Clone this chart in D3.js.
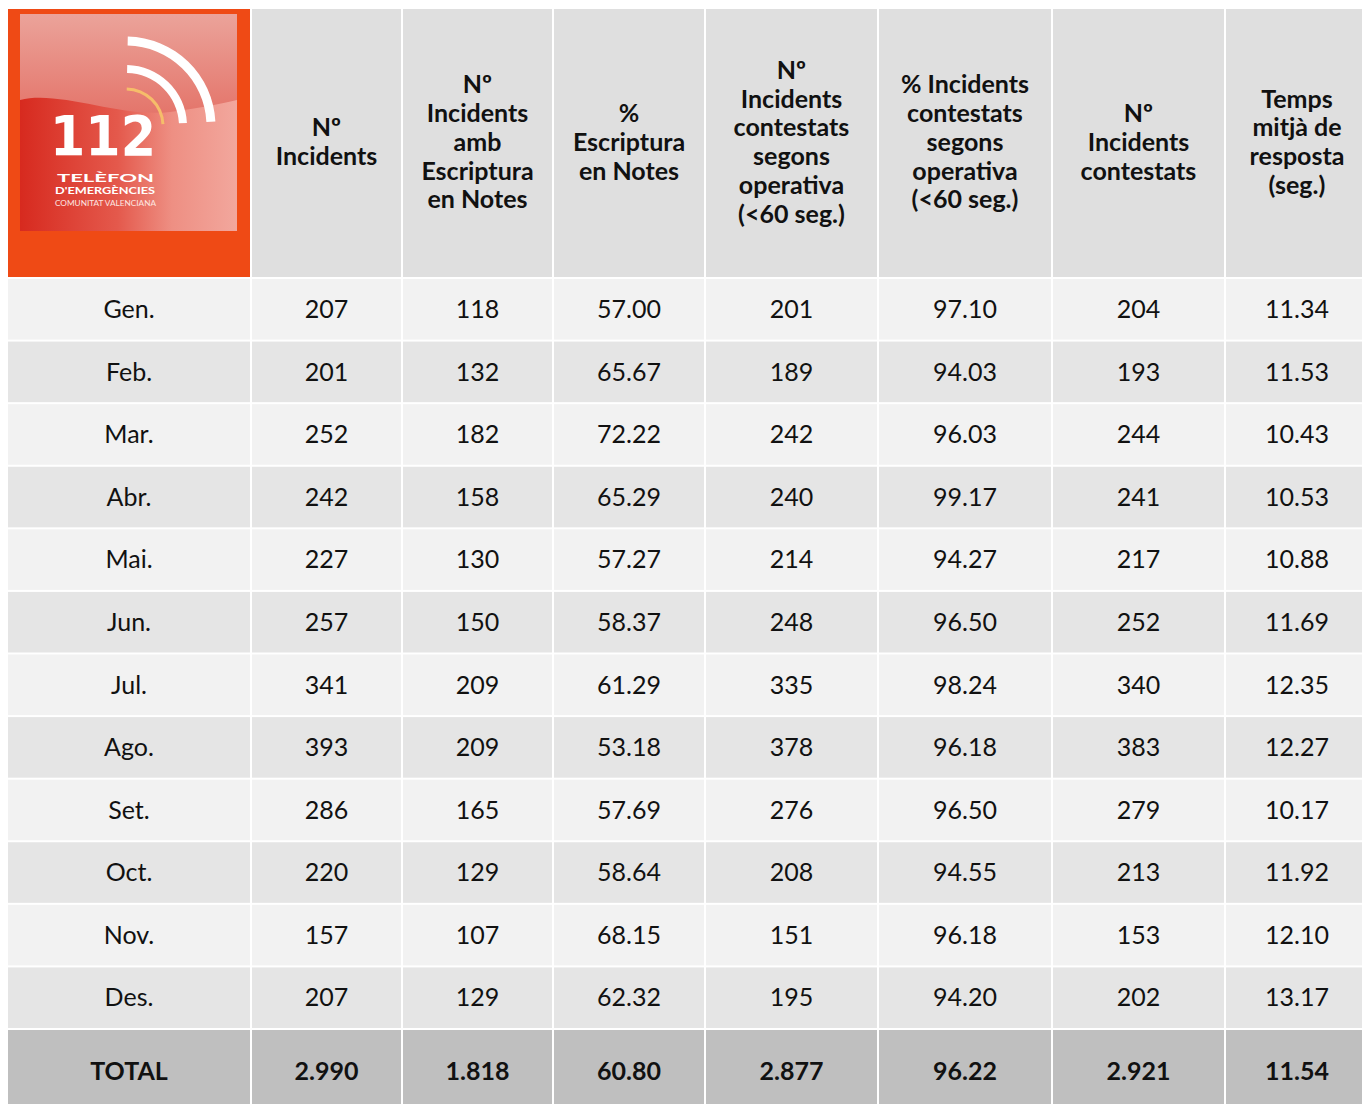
<!DOCTYPE html>
<html>
<head>
<meta charset="utf-8">
<script src="https://cdn.jsdelivr.net/npm/d3@7"></script>
<style>
  body { margin: 0; background: #fff; }
  text { font-family: Lato, "Open Sans", sans-serif; fill: #111; }
</style>
</head>
<body>
<div id="table"></div>
<script>
var months = ["Gen.", "Feb.", "Mar.", "Abr.", "Mai.", "Jun.", "Jul.", "Ago.", "Set.", "Oct.", "Nov.", "Des."];

var incidents = [207, 201, 252, 242, 227, 257, 341, 393, 286, 220, 157, 207];
var withNotes = [118, 132, 182, 158, 130, 150, 209, 209, 165, 129, 107, 129];
var pctNotes = [57.00, 65.67, 72.22, 65.29, 57.27, 58.37, 61.29, 53.18, 57.69, 58.64, 68.15, 62.32];
var answered60 = [201, 189, 242, 240, 214, 248, 335, 378, 276, 208, 151, 195];
var pctAnswered60 = [97.10, 94.03, 96.03, 99.17, 94.27, 96.50, 98.24, 96.18, 96.50, 94.55, 96.18, 94.20];
var answered = [204, 193, 244, 241, 217, 252, 340, 383, 279, 213, 153, 202];
var avgTime = [11.34, 11.53, 10.43, 10.53, 10.88, 11.69, 12.35, 12.27, 10.17, 11.92, 12.10, 13.17];

var totalLabel = "TOTAL";
var totals = [2990, 1818, 60.80, 2877, 96.22, 2921, 11.54];

var headers = [
  ["Nº", "Incidents"],
  ["Nº", "Incidents", "amb", "Escriptura", "en Notes"],
  ["%", "Escriptura", "en Notes"],
  ["Nº", "Incidents", "contestats", "segons", "operativa", "(<60 seg.)"],
  ["% Incidents", "contestats", "segons", "operativa", "(<60 seg.)"],
  ["Nº", "Incidents", "contestats"],
  ["Temps", "mitjà de", "resposta", "(seg.)"]
];

var series = [incidents, withNotes, pctNotes, answered60, pctAnswered60, answered, avgTime];
var decimals = [false, false, true, false, true, false, true];

// Layout
var width = 1362, height = 1104;
var colLeft = [8, 252, 403, 554, 706, 879, 1053, 1226];
var colRight = [250, 401, 552, 704, 877, 1051, 1224, 1370];
var headTop = 9, headBottom = 277;
var bodyTop = 279, bodyBottom = 1030;
var totalBottom = 1112;

var orange = "#ef4a15";
var headFill = "#dfdfdf";
var oddFill = "#f2f2f2";
var evenFill = "#e5e5e5";
var totalFill = "#bfbfbf";

var euro = d3.formatLocale({ decimal: ",", thousands: ".", grouping: [3], currency: ["", ""] });
var fmtInt = euro.format(",d");
var fmtDec = d3.format(".2f");

var svg = d3.select("#table")
    .append("svg")
    .attr("width", width)
    .attr("height", height);

svg.append("rect")
    .attr("width", width)
    .attr("height", height)
    .attr("fill", "#fff");

var yRow = d3.scaleBand()
    .domain(months)
    .range([bodyTop, bodyBottom]);

function centerX(c) {
  return (colLeft[c] + Math.min(colRight[c], 1368)) / 2;
}

// Header row
svg.append("rect")
    .attr("x", colLeft[0]).attr("y", headTop)
    .attr("width", colRight[0] - colLeft[0])
    .attr("height", headBottom - headTop)
    .attr("fill", orange);

var headG = svg.append("g").attr("class", "head");
headers.forEach(function(lines, i) {
  var c = i + 1;
  headG.append("rect")
      .attr("x", colLeft[c]).attr("y", headTop)
      .attr("width", colRight[c] - colLeft[c])
      .attr("height", headBottom - headTop)
      .attr("fill", headFill);

  var lh = 28.8;
  var y0 = 142 - (lines.length - 1) * lh / 2;
  var t = headG.append("text")
      .attr("text-anchor", "middle")
      .attr("font-size", 25)
      .attr("font-weight", "bold");
  lines.forEach(function(line, k) {
    t.append("tspan")
        .attr("x", centerX(c))
        .attr("y", y0 + k * lh)
        .attr("dy", "0.35em")
        .text(line);
  });
});

// Body rows
var rows = svg.selectAll("g.row")
    .data(months)
    .enter()
    .append("g")
    .attr("class", "row");

colLeft.forEach(function(x0, c) {
  rows.append("rect")
      .attr("x", x0)
      .attr("y", function(d) { return yRow(d); })
      .attr("width", colRight[c] - x0)
      .attr("height", yRow.bandwidth() - 2)
      .attr("fill", function(d, i) { return i % 2 === 0 ? oddFill : evenFill; });

  rows.append("text")
      .attr("x", centerX(c))
      .attr("y", function(d) { return yRow(d) + (yRow.bandwidth() - 2) / 2; })
      .attr("dy", "0.35em")
      .attr("text-anchor", "middle")
      .attr("font-size", 25)
      .text(function(d, i) {
        if (c === 0) return d;
        var v = series[c - 1][i];
        return decimals[c - 1] ? fmtDec(v) : v;
      });
});

// Total row
colLeft.forEach(function(x0, c) {
  svg.append("rect")
      .attr("x", x0)
      .attr("y", bodyBottom)
      .attr("width", colRight[c] - x0)
      .attr("height", totalBottom - bodyBottom)
      .attr("fill", totalFill);

  svg.append("text")
      .attr("x", centerX(c))
      .attr("y", 1071)
      .attr("dy", "0.35em")
      .attr("text-anchor", "middle")
      .attr("font-size", 25)
      .attr("font-weight", "bold")
      .text(c === 0 ? totalLabel : (decimals[c - 1] ? fmtDec(totals[c - 1]) : fmtInt(totals[c - 1])));
});

// 112 logo inside the orange cell
var defs = svg.append("defs");
var gTop = defs.append("linearGradient").attr("id", "gTop")
    .attr("x1", 0).attr("y1", 0).attr("x2", 0).attr("y2", 1);
gTop.append("stop").attr("offset", "0%").attr("stop-color", "#eba39a");
gTop.append("stop").attr("offset", "100%").attr("stop-color", "#dc3f33");

var gBot = defs.append("linearGradient").attr("id", "gBot")
    .attr("x1", 0).attr("y1", 0).attr("x2", 1).attr("y2", 0);
gBot.append("stop").attr("offset", "0%").attr("stop-color", "#d72a1f");
gBot.append("stop").attr("offset", "45%").attr("stop-color", "#e4594c");
gBot.append("stop").attr("offset", "70%").attr("stop-color", "#ee8f83");
gBot.append("stop").attr("offset", "100%").attr("stop-color", "#f2a79d");

var logo = svg.append("g").attr("class", "logo");
logo.append("rect")
    .attr("x", 20).attr("y", 14)
    .attr("width", 217).attr("height", 217)
    .attr("fill", "url(#gTop)");

var wave = d3.path();
wave.moveTo(20, 100);
wave.bezierCurveTo(60, 90, 120, 118, 170, 112);
wave.bezierCurveTo(200, 108, 220, 104, 237, 100);
wave.lineTo(237, 231);
wave.lineTo(20, 231);
wave.closePath();
logo.append("path").attr("d", wave.toString()).attr("fill", "url(#gBot)");

var arcCx = 126, arcCy = 126;
[[85, 9, "#fff"], [57, 8, "#fff"], [37, 3, "#f6bd6a"]].forEach(function(a) {
  var arc = d3.arc()
      .innerRadius(a[0] - a[1] / 2)
      .outerRadius(a[0] + a[1] / 2)
      .startAngle(0.02)
      .endAngle(Math.PI / 2 - 0.05);
  logo.append("path")
      .attr("transform", "translate(" + arcCx + "," + arcCy + ")")
      .attr("d", arc())
      .attr("fill", a[2]);
});

logo.append("text")
    .attr("x", 50).attr("y", 155)
    .attr("textLength", 106)
    .attr("lengthAdjust", "spacingAndGlyphs")
    .attr("font-size", 56)
    .attr("font-weight", "bold")
    .style("font-family", "'DejaVu Sans', sans-serif")
    .style("fill", "#fff")
    .text("112");

logo.append("text")
    .attr("x", 57).attr("y", 182)
    .attr("textLength", 97)
    .attr("lengthAdjust", "spacingAndGlyphs")
    .attr("font-size", 11)
    .attr("font-weight", "bold")
    .style("fill", "#fff")
    .text("TELÈFON");

logo.append("text")
    .attr("x", 55).attr("y", 194)
    .attr("textLength", 100)
    .attr("lengthAdjust", "spacingAndGlyphs")
    .attr("font-size", 9)
    .attr("font-weight", "bold")
    .style("fill", "#fff")
    .text("D'EMERGÈNCIES");

logo.append("text")
    .attr("x", 55).attr("y", 206)
    .attr("textLength", 101)
    .attr("lengthAdjust", "spacingAndGlyphs")
    .attr("font-size", 8)
    .style("fill", "#fde7e2")
    .text("COMUNITAT VALENCIANA");
</script>
</body>
</html>
